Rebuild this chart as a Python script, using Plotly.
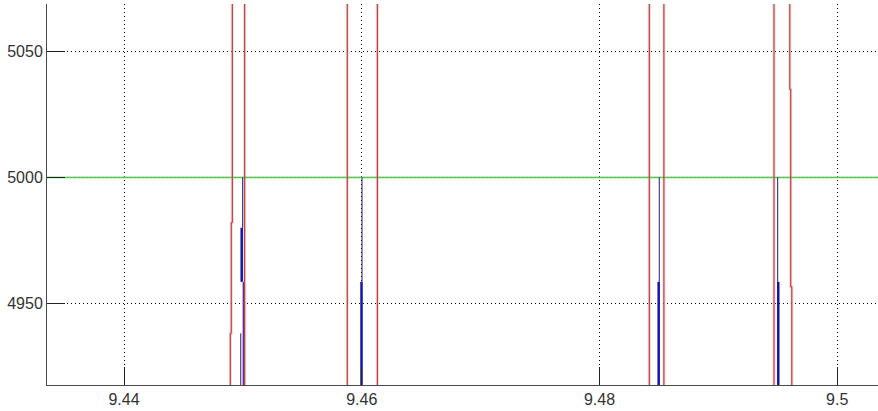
import plotly.graph_objects as go

# ---- data ----
x_range = [9.43352, 9.50343]
y_range = [4917.5, 5068.9]
x_ticks = [9.44, 9.46, 9.48, 9.5]
x_tick_labels = ["9.44", "9.46", "9.48", "9.5"]
y_ticks = [4950, 5000, 5050]
y_tick_labels = ["4950", "5000", "5050"]

green_level = 5000

# red steep edges (bottom / middle / top x, and the two step levels)
red_edge_bottom_x = [9.44894, 9.45015, 9.45878, 9.46131, 9.48419, 9.48542, 9.49468, 9.49618]
red_edge_middle_x = [9.44902, 9.45015, 9.45878, 9.46131, 9.48419, 9.48542, 9.49468, 9.49609]
red_edge_top_x    = [9.44911, 9.45015, 9.45878, 9.46131, 9.48419, 9.48542, 9.49468, 9.49601]
red_step_low_y    = [4938, 4938, 4938, 4938, 4938, 4938, 4938, 4956.5]
red_step_high_y   = [4982, 4982, 4982, 4982, 4982, 4982, 4982, 5035]
red_off_low, red_off_high = 4880, 5100

# blue pulses
blue_thin_x  = [9.44998, 9.46002, 9.48503, 9.49499, 9.44982]
blue_thin_y0 = [4980, 4958.5, 4958.5, 4958.5, 4900]
blue_thin_y1 = [5000, 5000, 5000, 5000, 4938]
blue_thick_x  = [9.44990, 9.45998, 9.48498, 9.49504]
blue_thick_y0 = [4958.5, 4900, 4900, 4900]
blue_thick_y1 = [4980, 4958.5, 4958.5, 4958.5]
purple_x  = [9.45004]
purple_y0 = [4900]
purple_y1 = [4958.5]


def segs(xs, y0s, y1s):
    X, Y = [], []
    for x, a, b in zip(xs, y0s, y1s):
        X += [x, x, None]
        Y += [a, b, None]
    return X, Y


rx, ry = [], []
for xb, xm, xt, lo, hi in zip(red_edge_bottom_x, red_edge_middle_x, red_edge_top_x,
                              red_step_low_y, red_step_high_y):
    rx += [xb, xb, xm, xm, xt, xt, None]
    ry += [red_off_low, lo, lo, hi, hi, red_off_high, None]

fig = go.Figure()

# green reference line
fig.add_trace(go.Scatter(x=x_range, y=[green_level, green_level], mode="lines",
                         line=dict(color="rgba(150,230,150,0.45)", width=3), hoverinfo="skip"))
fig.add_trace(go.Scatter(x=x_range, y=[green_level, green_level], mode="lines",
                         line=dict(color="#52c052", width=1), hoverinfo="skip"))

# red edges (halo + line)
fig.add_trace(go.Scatter(x=rx, y=ry, mode="lines",
                         line=dict(color="rgba(245,150,150,0.45)", width=3), hoverinfo="skip"))
fig.add_trace(go.Scatter(x=rx, y=ry, mode="lines",
                         line=dict(color="#9a3434", width=1), hoverinfo="skip"))

# blue pulses
bx, by = segs(blue_thin_x, blue_thin_y0, blue_thin_y1)
fig.add_trace(go.Scatter(x=bx, y=by, mode="lines",
                         line=dict(color="#20206e", width=1), hoverinfo="skip"))
bx, by = segs(blue_thick_x, blue_thick_y0, blue_thick_y1)
fig.add_trace(go.Scatter(x=bx, y=by, mode="lines",
                         line=dict(color="#1414a8", width=2.5), hoverinfo="skip"))
bx, by = segs(purple_x, purple_y0, purple_y1)
fig.add_trace(go.Scatter(x=bx, y=by, mode="lines",
                         line=dict(color="#6a2a9a", width=1.5), hoverinfo="skip"))

axis_common = dict(
    showgrid=True, gridcolor="#000000", gridwidth=1, griddash="1px,3px",
    zeroline=False, showline=True, linecolor="#4a4a4a", linewidth=1,
    ticks="inside", ticklen=18, tickcolor="#222222", tickwidth=1,
    tickfont=dict(family="Liberation Sans, Arial, sans-serif", size=16, color="#333333"),
)

fig.update_xaxes(range=x_range, tickvals=x_ticks, ticktext=x_tick_labels, **axis_common)
fig.update_yaxes(range=y_range, tickvals=y_ticks, ticktext=y_tick_labels, **axis_common)

fig.update_layout(
    width=878, height=411,
    margin=dict(l=47, r=0, t=4, b=26),
    paper_bgcolor="white", plot_bgcolor="white",
    showlegend=False,
)

fig.write_html("out.html",
               config={"displayModeBar": False},
               post_script="document.body.style.margin='0px';document.body.style.padding='0px';document.body.style.overflow='hidden';")
